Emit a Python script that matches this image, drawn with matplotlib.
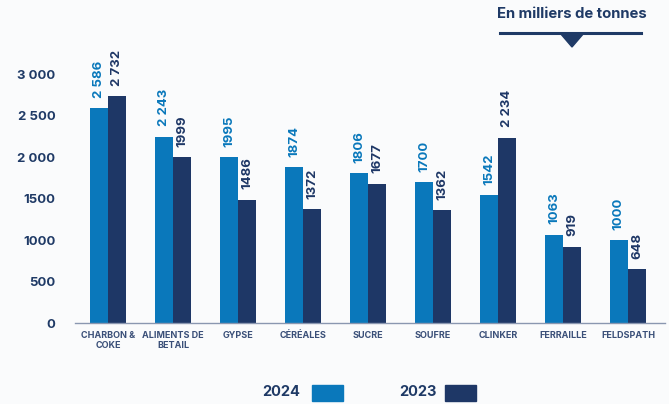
import matplotlib
matplotlib.use("Agg")
import matplotlib.pyplot as plt
import numpy as np
from matplotlib.patches import Polygon, Rectangle
from matplotlib.lines import Line2D

plt.rcParams['font.family'] = ['Inter', 'DejaVu Sans']

categories = ["CHARBON &\nCOKE", "ALIMENTS DE\nBETAIL", "GYPSE", "CÉRÉALES", "SUCRE",
              "SOUFRE", "CLINKER", "FERRAILLE", "FELDSPATH"]
values_2024 = [2586, 2243, 1995, 1874, 1806, 1700, 1542, 1063, 1000]
values_2023 = [2732, 1999, 1486, 1372, 1677, 1362, 2234, 919, 648]
labels_2024 = ["2 586", "2 243", "1995", "1874", "1806", "1700", "1542", "1063", "1000"]
labels_2023 = ["2 732", "1999", "1486", "1372", "1677", "1362", "2 234", "919", "648"]
yticks = [0, 500, 1000, 1500, 2000, 2500, 3000]
ytick_labels = ["0", "500", "1000", "1500", "2 000", "2 500", "3 000"]
series_names = ["2024", "2023"]
unit_title = "En milliers de tonnes"

c24 = "#0a78bb"
c23 = "#1e3766"
navy = "#1f3a66"
bg = "#fafbfc"

fig = plt.figure(figsize=(6.69, 4.04), dpi=100, facecolor=bg)
ax = fig.add_axes([75/669, 1-323/404, (665-75)/669, (323-74)/404], facecolor=bg)

x = np.arange(len(categories))
w = 0.28
ax.bar(x - w/2, values_2024, w, color=c24)
ax.bar(x + w/2, values_2023, w, color=c23)

off = 125
for xi, v, l in zip(x - w/2, values_2024, labels_2024):
    ax.text(xi, v + off, l, rotation=90, ha='center', va='bottom', color=c24,
            fontsize=9.5, fontweight='bold', clip_on=False)
for xi, v, l in zip(x + w/2, values_2023, labels_2023):
    ax.text(xi, v + off, l, rotation=90, ha='center', va='bottom', color=c23,
            fontsize=9.5, fontweight='bold', clip_on=False)

ax.set_xlim(-0.51, 8.57)
ax.set_ylim(0, 3000)
ax.set_yticks(yticks)
ax.set_yticklabels(ytick_labels, fontsize=9.5, fontweight='bold', color=navy)
ax.set_xticks(x)
ax.set_xticklabels(categories, fontsize=6.5, fontweight='bold', color="#3a4f78", linespacing=1.1)
ax.tick_params(axis='both', length=0)
ax.tick_params(axis='y', pad=14)
ax.tick_params(axis='x', pad=6)
for s in ['top', 'right', 'left']:
    ax.spines[s].set_visible(False)
ax.spines['bottom'].set_color("#8a97b0")
ax.spines['bottom'].set_linewidth(1.0)

# unit header
fig.text(572/669, 1-14/404, unit_title, ha='center', va='center', fontsize=10.7,
         fontweight='bold', color=navy)
fig.add_artist(Line2D([500/669, 641/669], [1-33/404, 1-33/404], color=navy, lw=2.2,
                      transform=fig.transFigure))
fig.add_artist(Polygon([[560/669, 1-33/404], [584/669, 1-33/404], [572/669, 1-47/404]],
                       closed=True, color=navy, transform=fig.transFigure))

# legend
for name, tx, bx, col in [(series_names[0], 300, 312, c24), (series_names[1], 437, 445, c23)]:
    fig.text(tx/669, 1-392/404, name, ha='right', va='center', fontsize=10.5,
             fontweight='bold', color=navy)
    fig.add_artist(Rectangle((bx/669, 1-401/404), 31/669, 16/404, color=col,
                             transform=fig.transFigure))

fig.savefig("out.png", dpi=100, facecolor=bg)
